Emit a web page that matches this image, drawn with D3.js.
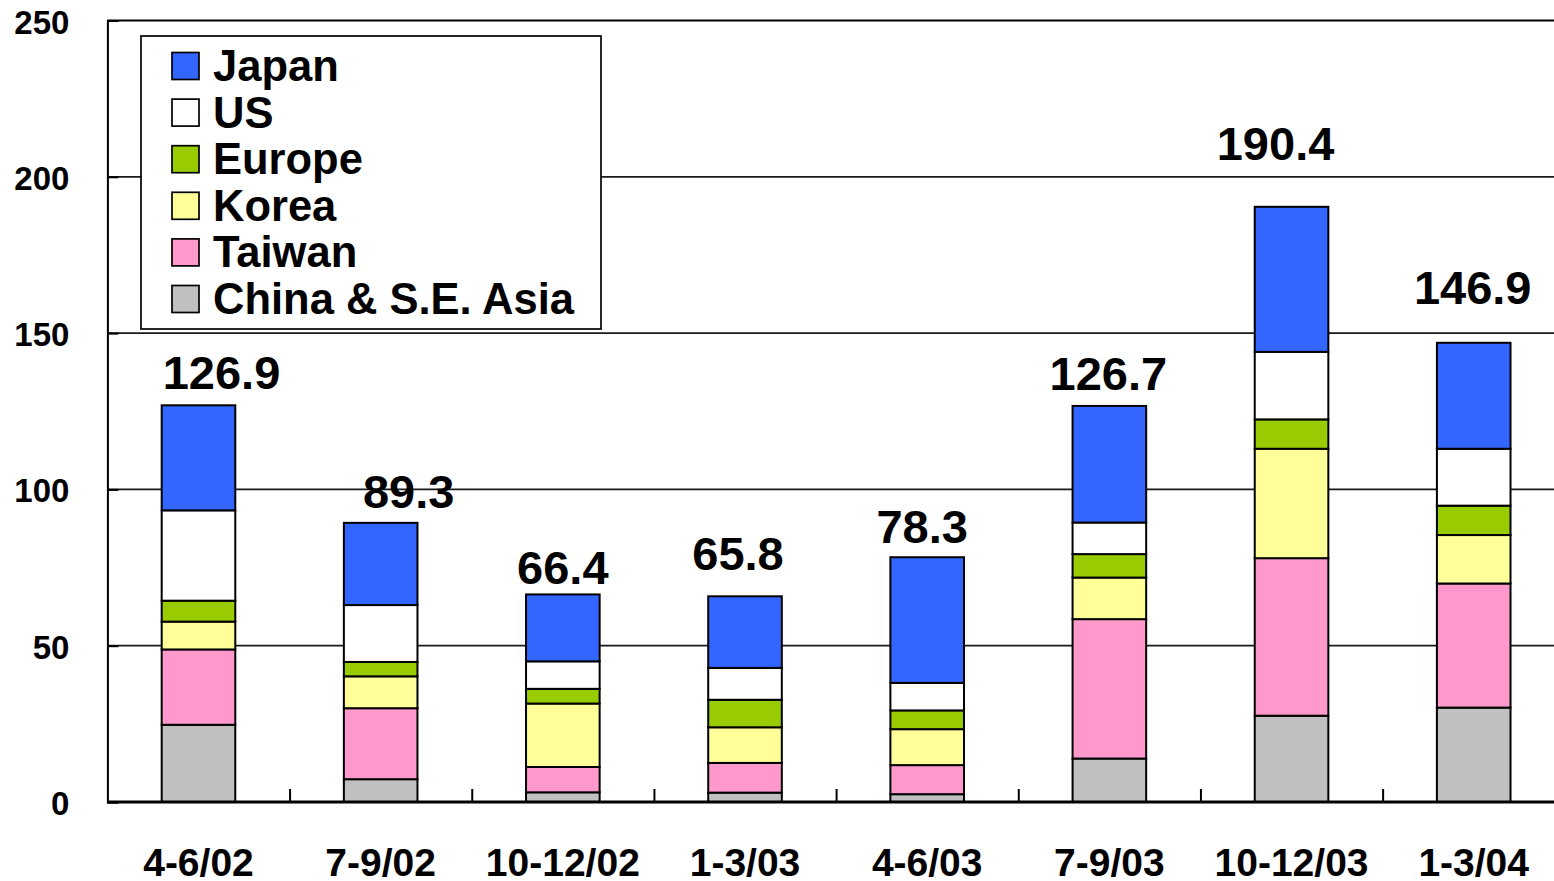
<!DOCTYPE html>
<html>
<head>
<meta charset="utf-8">
<script src="https://cdn.jsdelivr.net/npm/d3@7"></script>
<style>
  html, body { margin: 0; padding: 0; background: #fff; overflow: hidden; }
  svg { display: block; font-family: "Liberation Sans", Arial, Helvetica, sans-serif; font-weight: bold; }
</style>
</head>
<body>
<svg id="chart" width="1554" height="881"></svg>
<script>
// Quarterly values by region (stacked bottom to top: China, Taiwan, Korea, Europe, US, Japan)
const categories = ["4-6/02", "7-9/02", "10-12/02", "1-3/03", "4-6/03", "7-9/03", "10-12/03", "1-3/04"];
const china  = [24.7,  7.3,  3.1,  3.0,  2.5, 13.9, 27.6, 30.2];
const taiwan = [24.1, 22.7,  8.1,  9.5,  9.3, 44.6, 50.4, 39.7];
const korea  = [ 8.9, 10.2, 20.3, 11.4, 11.5, 13.3, 35.0, 15.5];
const europe = [ 6.7,  4.6,  4.7,  8.8,  6.0,  7.5,  9.4,  9.4];
const us     = [28.9, 18.2,  8.8, 10.2,  8.8, 10.1, 21.6, 18.2];
const japan  = [33.6, 26.3, 21.4, 22.9, 40.2, 37.3, 46.4, 33.9];
const totals = [126.9, 89.3, 66.4, 65.8, 78.3, 126.7, 190.4, 146.9];
const yTicks = [0, 50, 100, 150, 200, 250];

const seriesNames = ["China & S.E. Asia", "Taiwan", "Korea", "Europe", "US", "Japan"];
const seriesValues = [china, taiwan, korea, europe, us, japan];
const seriesColors = ["#C0C0C0", "#FF99CC", "#FFFF99", "#99CC00", "#FFFFFF", "#3366FF"];

// Hand-placed offsets of the total labels relative to the bar top (px)
const labelNudge = [[23, -16], [28, -15], [0, -10], [-7, -26], [-5, -14], [-1, -16], [-16, -47], [-1, -39]];

const svg = d3.select("#chart");
const plotLeft = 107.4, plotRight = 1564.8, plotTop = 20.5, plotBottom = 802;

const x = d3.scaleBand().domain(categories).range([plotLeft, plotRight])
  .paddingInner(0.596).paddingOuter(0.298);
const xEdge = d3.scaleLinear().domain([0, categories.length]).range([plotLeft, plotRight]);
const y = d3.scaleLinear().domain([0, 250]).range([plotBottom, plotTop]);

// Stack layout
const rows = categories.map((c, i) => {
  const r = { cat: c };
  seriesNames.forEach((s, k) => r[s] = seriesValues[k][i]);
  return r;
});
const stacked = d3.stack().keys(seriesNames)(rows);

// Gridlines
svg.append("g").selectAll("line")
  .data(yTicks.filter(t => t > 0 && t < 250))
  .join("line")
  .attr("x1", plotLeft).attr("x2", 1554)
  .attr("y1", d => y(d)).attr("y2", d => y(d))
  .attr("stroke", "#1a1a1a").attr("stroke-width", 1.7);

// Top border
svg.append("line")
  .attr("x1", plotLeft).attr("x2", 1554).attr("y1", y(250)).attr("y2", y(250))
  .attr("stroke", "#000").attr("stroke-width", 2);

// Y axis
const yAxis = svg.append("g")
  .attr("transform", `translate(${plotLeft},0)`)
  .call(d3.axisLeft(y).tickValues(yTicks).tickSize(-11).tickPadding(38).tickFormat(d3.format("d")));
yAxis.select(".domain").attr("stroke", "#000").attr("stroke-width", 2);
yAxis.selectAll(".tick line").attr("stroke", "#000").attr("stroke-width", 2);
yAxis.selectAll("text").attr("font-size", 33).attr("font-weight", "bold")
  .attr("font-family", "Liberation Sans, Arial, sans-serif").attr("fill", "#000").attr("dy", "0.38em");

// Bars
svg.append("g").selectAll("g")
  .data(stacked)
  .join("g")
  .attr("fill", (d, k) => seriesColors[k])
  .selectAll("rect")
  .data(d => d)
  .join("rect")
  .attr("x", d => x(d.data.cat))
  .attr("width", x.bandwidth())
  .attr("y", d => y(d[1]))
  .attr("height", d => y(d[0]) - y(d[1]))
  .attr("stroke", "#000").attr("stroke-width", 2);

// X axis: category labels
const xAxis = svg.append("g")
  .attr("transform", `translate(0,${plotBottom})`)
  .call(d3.axisBottom(x).tickSize(0).tickPadding(46));
xAxis.select(".domain").remove();
xAxis.selectAll("text").attr("font-size", 39).attr("font-weight", "bold")
  .attr("font-family", "Liberation Sans, Arial, sans-serif").attr("fill", "#000");

// X axis: baseline and separator ticks between categories
const xTicks = svg.append("g")
  .attr("transform", `translate(0,${plotBottom})`)
  .call(d3.axisBottom(xEdge).tickValues(d3.range(1, categories.length)).tickSize(-13).tickFormat(""));
xTicks.select(".domain").attr("stroke", "#000").attr("stroke-width", 3.2).attr("d", `M${plotLeft},0H1554`);
xTicks.selectAll(".tick line").attr("stroke", "#000").attr("stroke-width", 2);

// Total labels
svg.append("g").selectAll("text")
  .data(totals)
  .join("text")
  .attr("x", (d, i) => x(categories[i]) + x.bandwidth() / 2 + labelNudge[i][0])
  .attr("y", (d, i) => y(d) + labelNudge[i][1])
  .attr("text-anchor", "middle")
  .attr("font-size", 47)
  .attr("fill", "#000")
  .text(d => d3.format(".1f")(d));

// Legend (top to bottom: Japan ... China)
const legend = svg.append("g");
legend.append("rect")
  .attr("x", 141).attr("y", 36).attr("width", 460).attr("height", 293)
  .attr("fill", "#fff").attr("stroke", "#000").attr("stroke-width", 1.7);
const legendOrder = d3.range(seriesNames.length).reverse();
const item = legend.selectAll("g.item")
  .data(legendOrder)
  .join("g")
  .attr("class", "item")
  .attr("transform", (k, j) => `translate(172,${66 + j * 46.6})`);
item.append("rect")
  .attr("x", 0).attr("y", -13.5).attr("width", 27).attr("height", 27)
  .attr("fill", k => seriesColors[k]).attr("stroke", "#000").attr("stroke-width", 1.7);
item.append("text")
  .attr("x", 41).attr("y", 15)
  .attr("font-size", 43.5).attr("fill", "#000")
  .text(k => seriesNames[k]);
</script>
</body>
</html>
